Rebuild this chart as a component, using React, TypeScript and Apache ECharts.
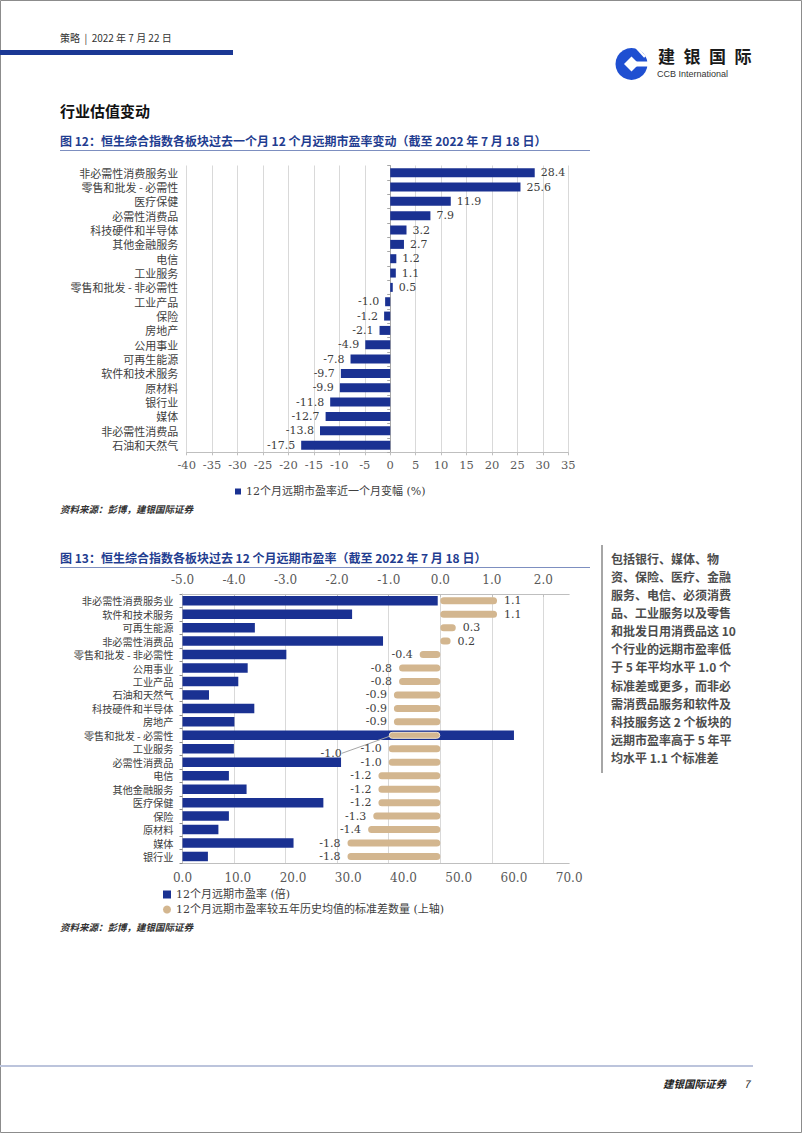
import React, { useEffect, useRef } from "react";
import * as echarts from "echarts";

// ---------- Data ----------
const chgCategories = [
  "非必需性消费服务业",
  "零售和批发 - 必需性",
  "医疗保健",
  "必需性消费品",
  "科技硬件和半导体",
  "其他金融服务",
  "电信",
  "工业服务",
  "零售和批发 - 非必需性",
  "工业产品",
  "保险",
  "房地产",
  "公用事业",
  "可再生能源",
  "软件和技术服务",
  "原材料",
  "银行业",
  "媒体",
  "非必需性消费品",
  "石油和天然气",
];
const chgValues = [28.4, 25.6, 11.9, 7.9, 3.2, 2.7, 1.2, 1.1, 0.5, -1.0, -1.2, -2.1, -4.9, -7.8, -9.7, -9.9, -11.8, -12.7, -13.8, -17.5];

const peCategories = [
  "非必需性消费服务业",
  "软件和技术服务",
  "可再生能源",
  "非必需性消费品",
  "零售和批发 - 非必需性",
  "公用事业",
  "工业产品",
  "石油和天然气",
  "科技硬件和半导体",
  "房地产",
  "零售和批发 - 必需性",
  "工业服务",
  "必需性消费品",
  "电信",
  "其他金融服务",
  "医疗保健",
  "保险",
  "原材料",
  "媒体",
  "银行业",
];
const peValues = [46.2, 30.7, 13.1, 36.3, 18.8, 11.8, 10.1, 4.8, 13.0, 9.4, 60.0, 9.3, 28.7, 8.4, 11.6, 25.5, 8.4, 6.5, 20.1, 4.6];
const sdValues = [1.1, 1.1, 0.3, 0.2, -0.4, -0.8, -0.8, -0.9, -0.9, -0.9, -1.0, -1.0, -1.0, -1.2, -1.2, -1.2, -1.3, -1.4, -1.8, -1.8];

const chgSeriesName = "12个月远期市盈率近一个月变幅 (%)";
const peSeriesName = "12个月远期市盈率 (倍)";
const sdSeriesName = "12个月远期市盈率较五年历史均值的标准差数量 (上轴)";

const sideText = [
  "包括银行、媒体、物",
  "资、保险、医疗、金融",
  "服务、电信、必须消费",
  "品、工业服务以及零售",
  "和批发日用消费品这 10",
  "个行业的远期市盈率低",
  "于 5 年平均水平 1.0 个",
  "标准差或更多，而非必",
  "需消费品服务和软件及",
  "科技服务这 2 个板块的",
  "远期市盈率高于 5 年平",
  "均水平 1.1 个标准差",
];

// ---------- Styles ----------
const BLUE = "#1a3192";
const TAN = "#d3b68f";
const TITLE_BLUE = "#1f3d90";
const LOGO_BLUE = "#1f4fd1";
const SERIF = "'DejaVu Serif', 'Noto Sans CJK SC', serif";
const CJK = "'Noto Sans CJK SC', sans-serif";
const GRID_LINE = "#d9d9d9";
const AXIS_LINE = "#bfbfbf";
const TEXT = "#404040";

const txt = (text: string, x: number, y: number, opts: any = {}) => ({
  type: "text",
  x,
  y,
  silent: true,
  style: {
    text,
    fill: opts.fill || "#333",
    fontSize: opts.fontSize || 11,
    fontFamily: opts.fontFamily || CJK,
    fontWeight: opts.fontWeight || "normal",
    fontStyle: opts.fontStyle || "normal",
    verticalAlign: opts.verticalAlign || "middle",
    align: opts.align || "left",
    lineHeight: opts.lineHeight,
  },
});

export default function App() {
  const ref = useRef<HTMLDivElement>(null);

  useEffect(() => {
    document.body.style.margin = "0";
    const chart = echarts.init(ref.current!, null, { renderer: "svg" });

    const option: any = {
      animation: false,
      backgroundColor: "#ffffff",
      grid: [
        { left: 186.7, top: 165.5, width: 381.6, height: 286.8, containLabel: false },
        { left: 182.5, top: 594, width: 386.7, height: 269.2, containLabel: false },
      ],
      xAxis: [
        {
          gridIndex: 0,
          type: "value",
          min: -40,
          max: 35,
          interval: 5,
          position: "bottom",
          axisLine: { show: true, onZero: false, lineStyle: { color: AXIS_LINE } },
          axisTick: { show: true, length: 3, lineStyle: { color: AXIS_LINE } },
          axisLabel: { margin: 7, fontSize: 11.5, fontFamily: SERIF, color: "#595959" },
          splitLine: { show: true, lineStyle: { color: GRID_LINE } },
        },
        {
          gridIndex: 1,
          type: "value",
          min: -5,
          max: 2.5,
          interval: 1,
          position: "top",
          axisLine: { show: true, onZero: false, lineStyle: { color: AXIS_LINE } },
          axisTick: { show: true, inside: true, length: 3, lineStyle: { color: AXIS_LINE } },
          axisLabel: {
            margin: 8,
            fontSize: 12,
            fontFamily: SERIF,
            color: "#595959",
            showMaxLabel: false,
            formatter: (v: number) => v.toFixed(1),
          },
          splitLine: { show: true, showMaxLine: false, lineStyle: { color: GRID_LINE } },
        },
        {
          gridIndex: 1,
          type: "value",
          min: 0,
          max: 70,
          interval: 10,
          position: "bottom",
          axisLine: { show: true, onZero: false, lineStyle: { color: AXIS_LINE } },
          axisTick: { show: false },
          axisLabel: {
            margin: 9,
            fontSize: 12,
            fontFamily: SERIF,
            color: "#595959",
            formatter: (v: number) => v.toFixed(1),
          },
          splitLine: { show: false },
        },
      ],
      yAxis: [
        {
          gridIndex: 0,
          type: "category",
          data: chgCategories,
          inverse: true,
          position: "left",
          axisLine: { show: false, onZero: false },
          axisTick: { show: false },
          axisLabel: { interval: 0, margin: 8.4, fontSize: 11, lineHeight: 13, fontFamily: CJK, color: TEXT },
        },
        {
          gridIndex: 0,
          type: "category",
          data: chgCategories,
          inverse: true,
          position: "left",
          axisLine: { show: true, onZero: true, lineStyle: { color: "#a6a6a6" } },
          axisTick: { show: true, interval: 0, length: 3, lineStyle: { color: "#a6a6a6" } },
          axisLabel: { show: false },
        },
        {
          gridIndex: 1,
          type: "category",
          data: peCategories,
          inverse: true,
          position: "left",
          axisLine: { show: true, onZero: false, lineStyle: { color: AXIS_LINE } },
          axisTick: { show: true, interval: 0, length: 3, lineStyle: { color: "#8c8c8c" } },
          axisLabel: { interval: 0, margin: 9, fontSize: 10.2, lineHeight: 12, fontFamily: CJK, color: TEXT },
        },
        {
          gridIndex: 1,
          type: "category",
          data: peCategories,
          inverse: true,
          show: false,
          axisLine: { onZero: false },
        },
      ],
      legend: [
        {
          data: [{ name: chgSeriesName, icon: "rect" }],
          left: 230,
          top: 481,
          itemWidth: 6,
          itemHeight: 6,
          textStyle: { fontSize: 11, fontFamily: SERIF, color: TEXT },
          selectedMode: false,
        },
        {
          data: [
            { name: peSeriesName, icon: "rect" },
            { name: sdSeriesName, icon: "circle" },
          ],
          orient: "vertical",
          left: 158,
          top: 884,
          itemGap: 4,
          itemWidth: 8,
          itemHeight: 8,
          textStyle: { fontSize: 11, fontFamily: SERIF, color: TEXT },
          selectedMode: false,
        },
      ],
      series: [
        {
          name: chgSeriesName,
          type: "bar",
          xAxisIndex: 0,
          yAxisIndex: 0,
          barWidth: 9,
          itemStyle: { color: BLUE },
          data: chgValues.map((v) => ({ value: v, label: { position: v < 0 ? "left" : "right" } })),
          label: {
            show: true,
            distance: 6,
            fontSize: 11,
            fontFamily: SERIF,
            color: TEXT,
            formatter: (p: any) => Number(p.value).toFixed(1),
          },
        },
        {
          name: peSeriesName,
          type: "bar",
          xAxisIndex: 2,
          yAxisIndex: 2,
          barWidth: 9.5,
          itemStyle: { color: BLUE },
          data: peValues,
        },
        {
          name: sdSeriesName,
          type: "bar",
          xAxisIndex: 1,
          yAxisIndex: 3,
          barWidth: 7,
          z: 3,
          itemStyle: { color: TAN, borderRadius: 3.5 },
          data: sdValues.map((v, i) => {
            const item: any = { value: v, label: { position: v < 0 ? "left" : "right" } };
            if (i === 10) {
              item.itemStyle = { borderColor: "#efe3cf", borderWidth: 1 };
              item.labelLine = { show: true, lineStyle: { color: "#a6a6a6", width: 1 } };
            }
            return item;
          }),
          label: {
            show: true,
            distance: 7,
            fontSize: 11,
            fontFamily: SERIF,
            color: TEXT,
            formatter: (p: any) => Number(p.value).toFixed(1),
          },
          labelLayout: (params: any) => (params.dataIndex === 10 ? { dx: -40, dy: 18 } : {}),
        },
      ],
      graphic: [
        // page border
        {
          type: "rect",
          silent: true,
          shape: { x: 0.5, y: 0.5, width: 801, height: 1132 },
          style: { fill: "none", stroke: "#8c8c8c", lineWidth: 1 },
        },
        // header
        txt("策略  |  2022 年 7 月 22 日", 60, 37, { fontSize: 10, fill: "#333" }),
        { type: "rect", silent: true, shape: { x: 0, y: 50, width: 233, height: 5 }, style: { fill: "#1b3894" } },
        // logo icon
        { type: "circle", silent: true, shape: { cx: 631.5, cy: 64, r: 16 }, style: { fill: LOGO_BLUE } },
        {
          type: "polygon",
          silent: true,
          shape: { points: [[631.5, 56.5], [639, 64], [631.5, 71.5], [624, 64]] },
          style: { fill: "#fff" },
        },
        { type: "rect", silent: true, shape: { x: 633, y: 61.5, width: 16, height: 5 }, style: { fill: "#fff" } },
        {
          type: "line",
          silent: true,
          shape: { x1: 635, y1: 46, x2: 645, y2: 57 },
          style: { stroke: "#fff", lineWidth: 2.5 },
        },
        txt("建", 666.5, 55, { fontSize: 17, fontWeight: "bold", fill: "#1a1a1a", align: "center" }),
        txt("银", 692, 55, { fontSize: 17, fontWeight: "bold", fill: "#1a1a1a", align: "center" }),
        txt("国", 717.5, 55, { fontSize: 17, fontWeight: "bold", fill: "#1a1a1a", align: "center" }),
        txt("际", 743, 55, { fontSize: 17, fontWeight: "bold", fill: "#1a1a1a", align: "center" }),
        txt("CCB International", 657, 73.5, { fontSize: 9, fontFamily: "'Liberation Sans', Arial, sans-serif", fill: "#333" }),
        // section title
        txt("行业估值变动", 60, 110, { fontSize: 15, fontWeight: "bold", fill: "#111" }),
        // figure 12 title
        txt("图 12：恒生综合指数各板块过去一个月 12 个月远期市盈率变动（截至 2022 年 7 月 18 日）", 60, 140, {
          fontSize: 12,
          fontWeight: "bold",
          fill: TITLE_BLUE,
        }),
        { type: "rect", silent: true, shape: { x: 60, y: 150, width: 530, height: 1 }, style: { fill: "#7d8fc0" } },
        txt("资料来源：彭博，建银国际证券", 60, 509, { fontSize: 9.5, fontStyle: "italic", fontWeight: "bold", fill: "#333" }),
        // figure 13 title
        txt("图 13：恒生综合指数各板块过去 12 个月远期市盈率（截至 2022 年 7 月 18 日）", 60, 557, {
          fontSize: 12,
          fontWeight: "bold",
          fill: TITLE_BLUE,
        }),
        { type: "rect", silent: true, shape: { x: 60, y: 567, width: 530, height: 1 }, style: { fill: "#7d8fc0" } },
        txt("资料来源：彭博，建银国际证券", 60, 927, { fontSize: 9.5, fontStyle: "italic", fontWeight: "bold", fill: "#333" }),
        // side note
        { type: "rect", silent: true, shape: { x: 601, y: 545, width: 2, height: 228 }, style: { fill: "#a6a6a6" } },
        txt(sideText.join("\n"), 611, 549.3, {
          fontSize: 12,
          fontWeight: "bold",
          fill: "#4d4d4d",
          verticalAlign: "top",
          lineHeight: 18.1,
        }),
        // footer
        { type: "rect", silent: true, shape: { x: 0, y: 1065, width: 753, height: 2 }, style: { fill: "#bcc4dc" } },
        txt("建银国际证券", 663, 1083, { fontSize: 10.5, fontStyle: "italic", fontWeight: "bold", fill: "#222" }),
        txt("7", 744, 1083, { fontSize: 10.5, fontStyle: "italic", fill: "#222" }),
      ],
    };

    chart.setOption(option);
    return () => chart.dispose();
  }, []);

  return <div ref={ref} style={{ width: 802, height: 1133 }} />;
}
